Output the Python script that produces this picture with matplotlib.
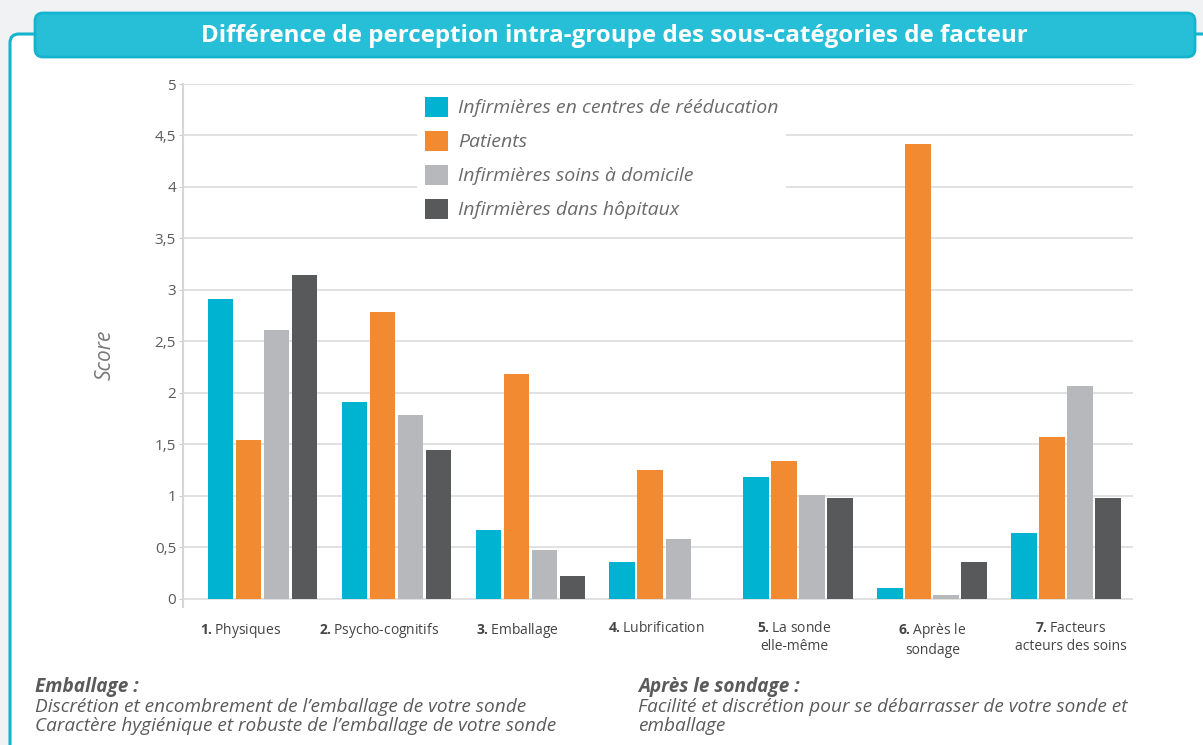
import numpy as np
import matplotlib
matplotlib.use("Agg")
import matplotlib.pyplot as plt
from matplotlib.patches import FancyBboxPatch, Patch

# ── Data ──────────────────────────────────────────────────────────────────────
categories = [
    r"$\mathbf{1.}$Physiques",
    r"$\mathbf{2.}$Psycho-cognitifs",
    r"$\mathbf{3.}$Emballage",
    r"$\mathbf{4.}$Lubrification",
    "$\\mathbf{5.}$La sonde\nelle-même",
    "$\\mathbf{6.}$Après le\nsondage",
    "$\\mathbf{7.}$Facteurs\nacteurs des soins",
]
series_names = [
    "Infirmières en centres de rééducation",
    "Patients",
    "Infirmières soins à domicile",
    "Infirmières dans hôpitaux",
]
rehab    = [2.91, 1.91, 0.67, 0.36, 1.18, 0.11, 0.64]
patients = [1.54, 2.79, 2.18, 1.25, 1.34, 4.42, 1.57]
home     = [2.61, 1.79, 0.48, 0.58, 1.01, 0.04, 2.07]
hospital = [3.15, 1.45, 0.22, 0.00, 0.98, 0.36, 0.98]
yticks = [0, 0.5, 1, 1.5, 2, 2.5, 3, 3.5, 4, 4.5, 5]
ytick_labels = ["0", "0,5", "1", "1,5", "2", "2,5", "3", "3,5", "4", "4,5", "5"]

title = "Différence de perception intra-groupe des sous-catégories de facteur"
notes_left = ["Emballage :",
              "Discrétion et encombrement de l’emballage de votre sonde",
              "Caractère hygiénique et robuste de l’emballage de votre sonde"]
notes_right = ["Après le sondage :",
               "Facilité et discrétion pour se débarrasser de votre sonde et",
               "emballage"]

colors = ["#00b4d1", "#f28a32", "#b7b8bb", "#58595b"]
text_grey = "#5a5a5a"
cyan_edge = "#14b4cf"

plt.rcParams["font.family"] = ["Open Sans", "DejaVu Sans"]
plt.rcParams["mathtext.fontset"] = "custom"
plt.rcParams["mathtext.rm"] = "Open Sans"
plt.rcParams["mathtext.bf"] = "Open Sans:bold"

W, H = 1203, 745
fig = plt.figure(figsize=(W / 100, H / 100), dpi=100, facecolor="#f1f2f4")

# ── Frame and title banner (pixel coordinates) ────────────────────────────────
bg = fig.add_axes([0, 0, 1, 1], zorder=0)
bg.set_xlim(0, W)
bg.set_ylim(H, 0)
bg.axis("off")
bg.add_patch(FancyBboxPatch((10, 34), 1300, 800, boxstyle="round,pad=0,rounding_size=9",
                            facecolor="white", edgecolor=cyan_edge, linewidth=2.2))
bg.add_patch(FancyBboxPatch((35, 13), 1160, 44, boxstyle="round,pad=0,rounding_size=8",
                            facecolor="#27bfd7", edgecolor=cyan_edge, linewidth=2))
bg.text(614, 36, title, color="white", fontsize=17.4, fontweight="bold",
        ha="center", va="center")

# footnotes
for i, line in enumerate(notes_left):
    bg.text(35, 687 + i * 19.5, line, fontsize=13.7, style="italic", color=text_grey,
            fontweight="bold" if i == 0 else "normal", va="center", ha="left")
for i, line in enumerate(notes_right):
    bg.text(638, 687 + i * 19.5, line, fontsize=13.7, style="italic", color=text_grey,
            fontweight="bold" if i == 0 else "normal", va="center", ha="left")

# ── Bar chart ─────────────────────────────────────────────────────────────────
ax = fig.add_axes([183 / W, 1 - 607 / H, 950 / W, (607 - 84) / H], zorder=1)
ax.patch.set_alpha(0)

x = np.arange(len(categories))
step, width = 0.209, 0.187
for k, (vals, c) in enumerate(zip([rehab, patients, home, hospital], colors)):
    ax.bar(x + (k - 1.5) * step, vals, width, color=c, zorder=3)

ax.set_xlim(-0.59, 6.5)
ax.set_ylim(-0.078, 5)
ax.set_yticks(yticks)
ax.set_yticklabels(ytick_labels)
ax.yaxis.grid(True, color="#dcdcdc", linewidth=1.2, zorder=0)
ax.set_axisbelow(True)
for s in ["top", "right", "bottom"]:
    ax.spines[s].set_visible(False)
ax.spines["left"].set_color("#d6d6d6")
ax.spines["left"].set_linewidth(1.5)
ax.spines["left"].set_bounds(-0.078, 5)
ax.tick_params(axis="y", length=3, color="#cccccc", labelsize=11, labelcolor=text_grey, pad=2)

# category labels sit on a slightly wider, left-shifted spacing than the bars
ax.set_xticks(x * 1.032 - 0.157)
ax.set_xticklabels(categories, fontsize=10, color="#444444", linespacing=1.25, va="top")
ax.tick_params(axis="x", length=0, pad=10)

fig.text(105 / W, 1 - 355 / H, "Score", rotation=90, fontsize=15, style="italic",
         color="#777777", ha="center", va="center")

handles = [Patch(facecolor=c, edgecolor="none") for c in colors]
leg = ax.legend(handles, series_names, loc="upper left",
                bbox_to_anchor=(417 / W, 1 - 89 / H), bbox_transform=fig.transFigure,
                frameon=True, facecolor="white", edgecolor="none", framealpha=1,
                fancybox=False, fontsize=14, handlelength=1.2, handleheight=1.2,
                labelspacing=0.69, handletextpad=0.5, borderpad=0.4, borderaxespad=0)
for t in leg.get_texts():
    t.set_color("#6a6a6a")
    t.set_style("italic")
leg.set_zorder(5)

fig.savefig("out.png", dpi=100, facecolor=fig.get_facecolor())
